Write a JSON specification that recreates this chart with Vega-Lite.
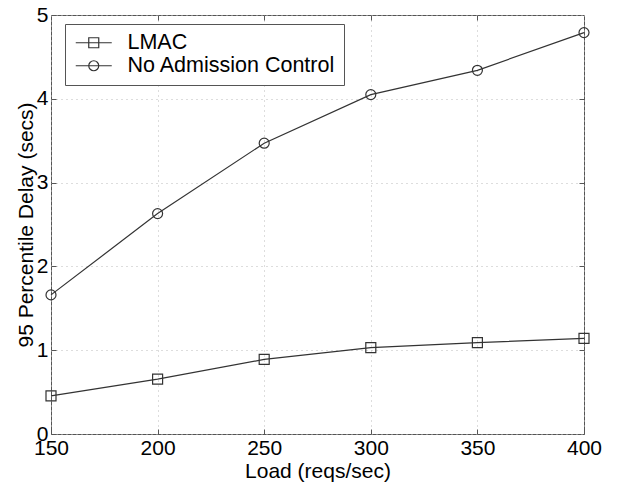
{
  "$schema": "https://vega.github.io/schema/vega-lite/v6.json",
  "width": 533,
  "height": 419,
  "autosize": "none",
  "padding": {"left": 51, "top": 15, "right": 39, "bottom": 50},
  "background": "white",
  "config": {
    "font": "Liberation Sans",
    "view": {"stroke": "#555", "strokeWidth": 1},
    "axis": {
      "domain": false,
      "tickSize": -5,
      "tickColor": "#555",
      "labelFontSize": 21,
      "labelColor": "black",
      "titleFontSize": 21,
      "titleFontWeight": "normal",
      "titleColor": "black",
      "gridColor": "#bbb",
      "gridDash": [1, 4],
      "labelFlush": false,
      "labelOverlap": false
    }
  },
  "data": {
    "values": [
      {"series": "LMAC", "load": 150, "delay": 0.455},
      {"series": "LMAC", "load": 200, "delay": 0.655},
      {"series": "LMAC", "load": 250, "delay": 0.89},
      {"series": "LMAC", "load": 300, "delay": 1.03},
      {"series": "LMAC", "load": 350, "delay": 1.09},
      {"series": "LMAC", "load": 400, "delay": 1.14},
      {"series": "No Admission Control", "load": 150, "delay": 1.66},
      {"series": "No Admission Control", "load": 200, "delay": 2.63},
      {"series": "No Admission Control", "load": 250, "delay": 3.47},
      {"series": "No Admission Control", "load": 300, "delay": 4.05},
      {"series": "No Admission Control", "load": 350, "delay": 4.34},
      {"series": "No Admission Control", "load": 400, "delay": 4.79}
    ]
  },
  "layer": [
    {
      "mark": {"type": "line", "color": "#333", "strokeWidth": 1.2},
      "encoding": {
        "x": {"field": "load", "type": "quantitative", "scale": {"domain": [150, 400], "nice": false},
              "axis": {"orient": "bottom", "values": [150, 200, 250, 300, 350, 400], "title": "Load (reqs/sec)", "grid": true, "labelPadding": 8, "titlePadding": 2}},
        "y": {"field": "delay", "type": "quantitative", "scale": {"domain": [0, 5], "nice": false},
              "axis": {"orient": "left", "values": [0, 1, 2, 3, 4, 5], "title": "95 Percentile Delay (secs)", "grid": true, "labelPadding": 8, "titlePadding": 0}},
        "detail": {"field": "series"}
      }
    },
    {
      "mark": {"type": "point", "filled": false, "color": "#333", "size": 100, "strokeWidth": 1.2, "opacity": 1},
      "encoding": {
        "x": {"field": "load", "type": "quantitative", "axis": null},
        "y": {"field": "delay", "type": "quantitative", "axis": null},
        "shape": {"condition": {"test": "datum.series === 'LMAC'", "value": "square"}, "value": "circle"}
      }
    },
    {
      "mark": {"type": "point", "filled": false, "opacity": 0},
      "encoding": {
        "x": {"field": "load", "type": "quantitative", "axis": null},
        "y": {"field": "delay", "type": "quantitative", "axis": null},
        "shape": {
          "field": "series", "type": "nominal",
          "scale": {"domain": ["LMAC", "No Admission Control"], "range": ["M-3.6,0H3.6M-1,-1H1V1H-1Z", "M-3.6,0H3.6M1,0A1,1 0 1,1 -1,0A1,1 0 1,1 1,0Z"]},
          "legend": {
            "title": null, "orient": "none", "legendX": 14, "legendY": 9,
            "strokeColor": "#555", "fillColor": "white", "padding": 8,
            "symbolSize": 100, "symbolStrokeColor": "#333", "symbolStrokeWidth": 1.2,
            "symbolFillColor": "transparent", "symbolOpacity": 1,
            "symbolOffset": 10, "labelOffset": 23, "labelFontSize": 21.5, "labelColor": "black",
            "rowPadding": 0, "labelLimit": 400
          }
        }
      }
    },
    {
      "mark": {"type": "point", "opacity": 0},
      "encoding": {
        "x": {"field": "load", "type": "quantitative",
              "axis": {"orient": "top", "values": [200, 250, 300, 350], "labels": false, "grid": false, "title": null}},
        "y": {"field": "delay", "type": "quantitative",
              "axis": {"orient": "right", "values": [1, 2, 3, 4], "labels": false, "grid": false, "title": null}}
      }
    }
  ],
  "resolve": {"axis": {"x": "independent", "y": "independent"}}
}
